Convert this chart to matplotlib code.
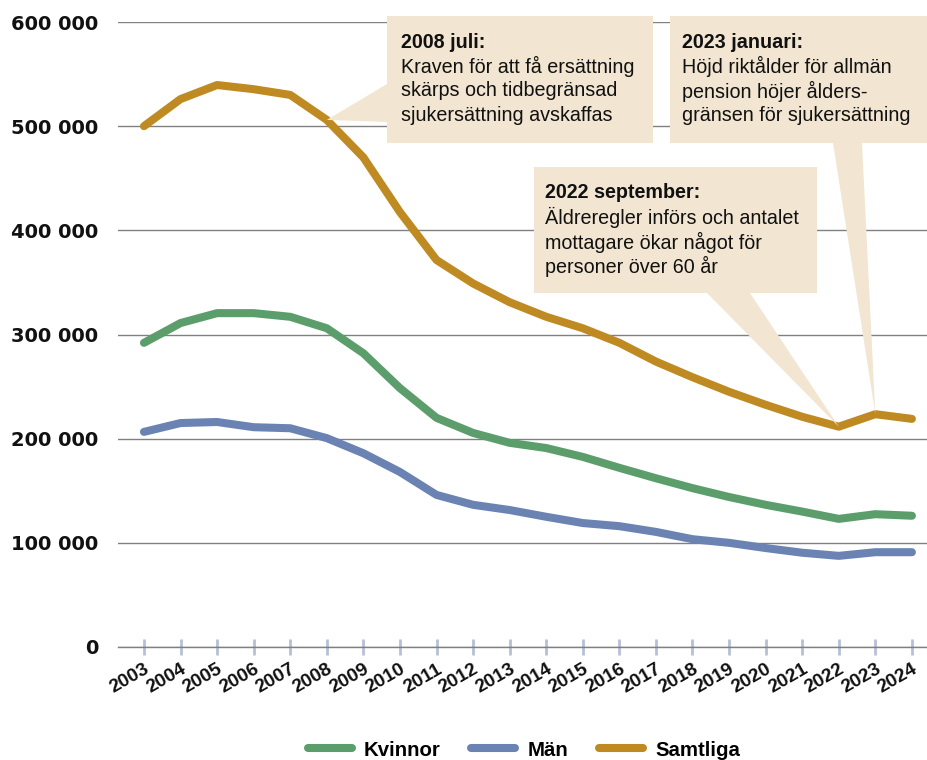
import numpy as np
import matplotlib.pyplot as plt
from matplotlib.patches import Rectangle, Polygon
from matplotlib.lines import Line2D
from matplotlib.transforms import ScaledTranslation

plt.rcParams['font.family'] = ['Liberation Sans', 'DejaVu Sans']

# Data
years = list(range(2003, 2025))
kvinnor = [292000, 311000, 320500, 320500, 317000, 306000, 282000, 248500, 220000, 205500, 196000,
           191000, 182500, 172000, 162000, 152500, 144000, 136500, 130000, 123000, 127500, 126000]
man = [206500, 215000, 216000, 211000, 210000, 200500, 186000, 168000, 146000, 136500, 131500,
       125000, 119000, 116000, 110500, 103500, 100000, 95000, 90500, 87500, 91000, 91000]
samtliga = [500000, 526000, 539500, 535500, 530000, 506000, 470000, 417500, 371500, 349000, 331000,
            317000, 306000, 292000, 274000, 259000, 245000, 232500, 221000, 211500, 223500, 219000]

serier = [("Kvinnor", kvinnor, "#5b9e6b"),
          ("Män", man, "#6b83b3"),
          ("Samtliga", samtliga, "#c08a22")]

yticks = [0, 100000, 200000, 300000, 400000, 500000, 600000]
ytick_labels = ["0", "100 000", "200 000", "300 000", "400 000", "500 000", "600 000"]

# annotations: (header, body lines, year the pointer goes to)
notes = [("2008 juli:", ["Kraven för att få ersättning", "skärps och tidbegränsad",
                         "sjukersättning avskaffas"], 2008),
         ("2023 januari:", ["Höjd riktålder för allmän", "pension höjer ålders-",
                            "gränsen för sjukersättning"], 2023),
         ("2022 september:", ["Äldreregler införs och antalet", "mottagare ökar något för",
                              "personer över 60 år"], 2022)]

W, H = 928, 760
fig = plt.figure(figsize=(W / 100, H / 100), dpi=100)

def fx(x):
    return x / W

def fy(y):
    return 1 - y / H

ax = fig.add_axes([fx(118), fy(647), fx(928) - fx(118), fy(22) - fy(647)])

for namn, vals, col in serier:
    ax.plot(years, vals, color=col, lw=5.8, solid_capstyle='round', solid_joinstyle='round',
            zorder=3, label=namn)

ax.set_ylim(0, 600000)
ax.set_xlim(2002.29, 2024.44)
ax.set_yticks(yticks)
ax.set_yticklabels(ytick_labels, fontsize=14, fontweight='bold', color='#111111',
                   family='DejaVu Sans')
ax.set_xticks(years)
ax.set_xticklabels([str(y) for y in years], rotation=30, ha='right', rotation_mode='anchor',
                   fontsize=13.8, fontweight='bold', color='#111111')
# nudge the rotated year labels a little left/down
for lbl in ax.get_xticklabels():
    lbl.set_transform(lbl.get_transform() + ScaledTranslation(-0.07, -0.03, fig.dpi_scale_trans))
ax.tick_params(axis='y', length=0, pad=14)
ax.tick_params(axis='x', direction='inout', length=12, width=2, color='#b8c0d8', pad=4)
ax.grid(axis='y', color='#808080', lw=1)
ax.set_axisbelow(True)
for s in ['top', 'right', 'left']:
    ax.spines[s].set_visible(False)
ax.spines['bottom'].set_color('#808080')
ax.spines['bottom'].set_linewidth(1)
ax.set_facecolor('none')

# callout boxes (pixel positions of the boxes, pointer tips from data)
boxes = [(387, 16, 653, 143), (670, 16, 928, 143), (534, 167, 817, 293)]
bases = [[(387, 84), (387, 122)], [(833, 143), (862, 143)], [(707, 293), (750, 293)]]
text_x = [401, 682, 545]
fill = '#f2e6d2'

def tip_px(year):
    i = years.index(year)
    px, py = ax.transData.transform((year, samtliga[i]))
    return px, H - py

for (header, body, year), (x0, y0, x1, y1), base, tx in zip(notes, boxes, bases, text_x):
    fig.patches.append(Rectangle((fx(x0), fy(y1)), fx(x1) - fx(x0), fy(y0) - fy(y1),
                                 transform=fig.transFigure, facecolor=fill, edgecolor='none', zorder=5))
    tx_, ty_ = tip_px(year)
    pts = [(fx(tx_), fy(ty_))] + [(fx(bx), fy(by)) for bx, by in base]
    fig.patches.append(Polygon(pts, closed=True, transform=fig.transFigure, facecolor=fill,
                               edgecolor='none', zorder=2))
    ty = y0 + 26
    fig.text(fx(tx), fy(ty), header, fontsize=14.2, fontweight='bold', va='center', ha='left',
             color='#111111', zorder=6)
    for line in body:
        ty += 24.5
        fig.text(fx(tx), fy(ty), line, fontsize=14.2, va='center', ha='left', color='#111111', zorder=6)

handles = [Line2D([], [], color=c, lw=5.8, solid_capstyle='round') for _, _, c in serier]
fig.legend(handles, [n for n, _, _ in serier], loc='center', bbox_to_anchor=(fx(524), fy(750)),
           ncol=3, frameon=False, handlelength=2.15, handletextpad=0.6, columnspacing=1.5,
           prop={'size': 14.7, 'weight': 'bold'})

fig.savefig('out.png', dpi=100)
